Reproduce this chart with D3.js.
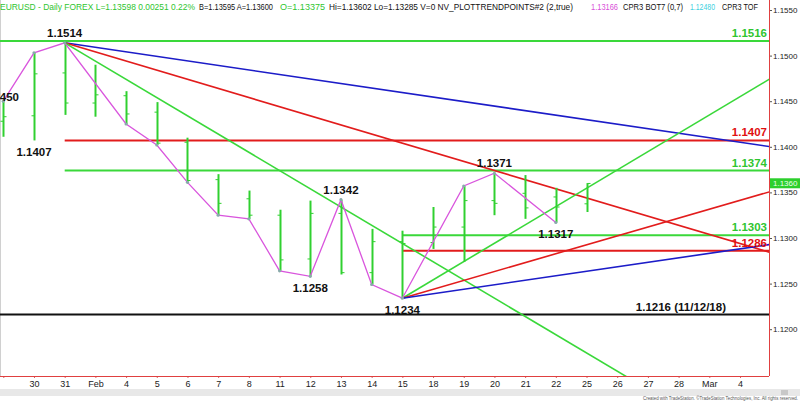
<!DOCTYPE html>
<html><head><meta charset="utf-8">
<script src="https://cdn.jsdelivr.net/npm/d3@7"></script>
<style>
html,body{margin:0;padding:0;background:#fff;}
svg{display:block;font-family:"Liberation Sans",Arial,sans-serif;}
</style></head>
<body><svg id="c" width="800" height="402"></svg>
<script>
// ---------- DATA ----------
const dates = ["Jan29","Jan30","Jan31","Feb1","Feb4","Feb5","Feb6","Feb7","Feb8","Feb11","Feb12","Feb13","Feb14","Feb15","Feb18","Feb19","Feb20","Feb21","Feb22","Feb25","Feb26","Feb27","Feb28","Mar1","Mar4"];
const tickLabels = ["","30","31","Feb","4","5","6","7","8","11","12","13","14","15","18","19","20","21","22","25","26","27","28","Mar","4"];
const openV  = [1.1428,1.1434,1.1481,1.1448,1.1456,1.1438,1.1405,1.1364,1.1343,1.1325,1.1277,1.1327,1.1262,1.1296,1.1295,1.1312,1.1341,1.1349,1.1345,1.13375];
const highV  = [1.1450,1.1503,1.1514,1.1490,1.1461,1.1449,1.1410,1.1370,1.1352,1.1331,1.1341,1.1342,1.1310,1.1308,1.1334,1.1357,1.1371,1.1369,1.1355,1.13602];
const lowV   = [1.1411,1.1407,1.1435,1.1433,1.1425,1.1402,1.1361,1.1325,1.1321,1.1264,1.1258,1.1260,1.1249,1.1234,1.1288,1.1274,1.1325,1.1321,1.1317,1.13285];
const closeV = [1.1433,1.1480,1.1448,1.1457,1.1436,1.1404,1.1363,1.1338,1.1325,1.1276,1.1327,1.1262,1.1296,1.1294,1.1312,1.1341,1.1338,1.1333,1.1334,1.13598];
// swing (trend) points: [bar index, price]
const swingIdx   = [0,1,2,4,5,6,7,8,9,10,11,12,13,15,16,18];
const swingPrice = [1.1450,1.1503,1.1514,1.1425,1.1402,1.1361,1.1325,1.1321,1.1264,1.1258,1.1342,1.1249,1.1234,1.1357,1.1371,1.1317];
// swing labels
const swingLabels = [
  {i:0, p:1.1450, t:"1.1450", pos:"left"},
  {i:1, p:1.1407, t:"1.1407", pos:"below"},
  {i:2, p:1.1514, t:"1.1514", pos:"above"},
  {i:10,p:1.1258, t:"1.1258", pos:"below"},
  {i:11,p:1.1342, t:"1.1342", pos:"above"},
  {i:13,p:1.1234, t:"1.1234", pos:"below"},
  {i:16,p:1.1371, t:"1.1371", pos:"above"},
  {i:18,p:1.1317, t:"1.1317", pos:"below"}
];
// horizontal levels: price, start bar index (null = from left edge), label
const levelPrice = [1.1516, 1.1407, 1.1374, 1.1303, 1.1286, 1.1216];
const levelStart = [null, 2, 2, 13, 13, null];
const levelKind  = ["green","red","green","green","red","black"];
const levelText  = ["1.1516","1.1407","1.1374","1.1303","1.1286","1.1216 (11/12/18)"];
// trend lines: [i1,p1,i2,p2]
const trendLines = [
  {kind:"blue",  a:[2,1.1514],  b:[25,1.1400]},
  {kind:"red",   a:[2,1.1514],  b:[25,1.1284]},
  {kind:"green", a:[2,1.1514],  b:[25,1.1054]},
  {kind:"green", a:[13,1.1234], b:[25,1.1475]},
  {kind:"red",   a:[13,1.1234], b:[25,1.1351]},
  {kind:"blue",  a:[13,1.1234], b:[25,1.1293]}
];
const yTicks = [1.1550,1.1500,1.1450,1.1400,1.1350,1.1300,1.1250,1.1200];
const lastPrice = 1.1360;

// ---------- STYLE ----------
const C = {green:"#3ad83a", red:"#e21c1c", blue:"#1c1cc8", black:"#111111", pink:"#d955dd", bar:"#30d030", labelGreen:"#2fc52f", labelRed:"#e01010"};
const W = 800, H = 402, axisX = 769, axisY = 376;

const svg = d3.select("#c");
const x = d3.scaleLinear().domain([0,24]).range([3.3,740]);
const y = d3.scaleLinear().domain([1.1550,1.1200]).range([10,329.2]);

svg.append("defs").append("clipPath").attr("id","plot")
  .append("rect").attr("x",0).attr("y",0).attr("width",axisX).attr("height",axisY);

// background
svg.append("rect").attr("width",W).attr("height",H).attr("fill","#fff");
svg.append("line").attr("x1",0.5).attr("x2",0.5).attr("y1",0).attr("y2",axisY).attr("stroke","#d0d0d0");

const plot = svg.append("g").attr("clip-path","url(#plot)");

// horizontal levels
levelPrice.forEach((p,k)=>{
  const x0 = levelStart[k]===null ? 0 : x(levelStart[k]);
  plot.append("line").attr("x1",x0).attr("x2",axisX).attr("y1",y(p)).attr("y2",y(p))
    .attr("stroke",C[levelKind[k]]).attr("stroke-width",2);
});

// trend lines
trendLines.forEach(t=>{
  plot.append("line").attr("x1",x(t.a[0])).attr("y1",y(t.a[1])).attr("x2",x(t.b[0])).attr("y2",y(t.b[1]))
    .attr("stroke",C[t.kind]).attr("stroke-width",1.6);
});

// OHLC bars
const bars = plot.append("g");
openV.forEach((o,i)=>{
  const cx = Math.round(x(i))+0.5;
  bars.append("line").attr("x1",cx).attr("x2",cx).attr("y1",y(highV[i])).attr("y2",y(lowV[i]))
    .attr("stroke",C.bar).attr("stroke-width",2);
  bars.append("line").attr("x1",cx-3).attr("x2",cx).attr("y1",y(o)).attr("y2",y(o))
    .attr("stroke",C.bar).attr("stroke-width",1);
  bars.append("line").attr("x1",cx).attr("x2",cx+3).attr("y1",y(closeV[i])).attr("y2",y(closeV[i]))
    .attr("stroke",C.bar).attr("stroke-width",1);
});

// swing line
const swing = swingIdx.map((d,k)=>[d,swingPrice[k]]);
plot.append("path").datum(swing)
  .attr("d",d3.line().x(d=>x(d[0])).y(d=>y(d[1])))
  .attr("fill","none").attr("stroke",C.pink).attr("stroke-width",1.3);
plot.selectAll("circle.sw").data(swing).enter().append("circle")
  .attr("cx",d=>x(d[0])).attr("cy",d=>y(d[1])).attr("r",1.6).attr("fill","#8aa");

// swing labels
swingLabels.forEach(s=>{
  let tx = x(s.i), ty = y(s.p), anchor="middle";
  if(s.pos==="above") ty -= 6;
  else if(s.pos==="below") ty += 16;
  else { tx = 19; anchor="end"; ty += 0; }
  plot.append("text").attr("x",tx).attr("y",ty).attr("text-anchor",anchor)
    .attr("font-size","11.5px").attr("font-weight","bold").attr("fill","#111").text(s.t);
});

// level labels
levelPrice.forEach((p,k)=>{
  const col = levelKind[k]==="green"?C.labelGreen:(levelKind[k]==="red"?C.labelRed:"#111");
  const tx = levelKind[k]==="black" ? 726 : 767;
  plot.append("text").attr("x",tx).attr("y",y(p)-4).attr("text-anchor","end")
    .attr("font-size","11.5px").attr("font-weight","bold").attr("fill",col).text(levelText[k]);
});

// axes
const yAxis = d3.axisRight(y).tickValues(yTicks).tickFormat(d3.format(".4f")).tickSize(3).tickPadding(1);
const gy = svg.append("g").attr("transform",`translate(${axisX},0)`).call(yAxis);
gy.select(".domain").remove();
gy.selectAll("line").attr("stroke","#555");
gy.selectAll("text").attr("font-size","8px").attr("fill","#222").attr("font-family","Liberation Sans,Arial,sans-serif");

const xAxis = d3.axisBottom(x).tickValues(d3.range(dates.length)).tickFormat(i=>tickLabels[i]).tickSize(2).tickPadding(3);
const gx = svg.append("g").attr("transform",`translate(0,${axisY})`).call(xAxis);
gx.select(".domain").remove();
gx.selectAll("line").attr("stroke","#c66");
gx.selectAll("text").attr("font-size","9px").attr("fill","#222").attr("font-family","Liberation Sans,Arial,sans-serif");

svg.append("line").attr("x1",axisX+0.5).attr("x2",axisX+0.5).attr("y1",0).attr("y2",axisY).attr("stroke","#e04040").attr("stroke-width",1);
svg.append("line").attr("x1",0).attr("x2",axisX).attr("y1",axisY+0.5).attr("y2",axisY+0.5).attr("stroke","#e04040").attr("stroke-width",1);

// last price box
svg.append("rect").attr("x",axisX+1).attr("y",y(lastPrice)-5).attr("width",W-axisX-1).attr("height",10).attr("fill","#2ccf2c");
svg.append("text").attr("x",773).attr("y",y(lastPrice)+3).attr("font-size","8px").attr("fill","#eaffea").text(d3.format(".4f")(lastPrice));

// header
const header = [
  {t:"EURUSD - Daily  FOREX  L=1.13598  0.00251  0.22%", x0:0, x1:195, c:"#2fc52f"},
  {t:"B=1.13595  A=1.13600", x0:199, x1:273, c:"#111"},
  {t:"O=1.13375", x0:280, x1:325, c:"#2fc52f"},
  {t:"Hi=1.13602  Lo=1.13285  V=0  NV_PLOTTRENDPOINTS#2 (2,true)", x0:329, x1:573, c:"#111"},
  {t:"1.13166", x0:591, x1:618, c:"#d94fd9"},
  {t:"CPR3 BOT7 (0,7)", x0:623, x1:683, c:"#111"},
  {t:"1.12480", x0:690, x1:715, c:"#40d0e0"},
  {t:"CPR3 TOF", x0:722, x1:758, c:"#111"}
];
header.forEach(h=>{
  svg.append("text").attr("x",h.x0).attr("y",10).attr("font-size","8.5px").attr("fill",h.c)
    .attr("textLength",h.x1-h.x0).attr("lengthAdjust","spacingAndGlyphs").text(h.t);
});

// bottom strip
svg.append("rect").attr("x",0).attr("y",389).attr("width",W).attr("height",7).attr("fill","#e8e8e8");
svg.append("rect").attr("x",781).attr("y",390).attr("width",7).attr("height",5).attr("fill","#c8c8c8");
svg.append("text").attr("x",643).attr("y",399.5).attr("font-size","4.5px").attr("fill","#555")
  .attr("textLength",155).attr("lengthAdjust","spacingAndGlyphs")
  .text("Created with TradeStation. \u00A9TradeStation Technologies, Inc. All rights reserved.");
</script></body></html>
